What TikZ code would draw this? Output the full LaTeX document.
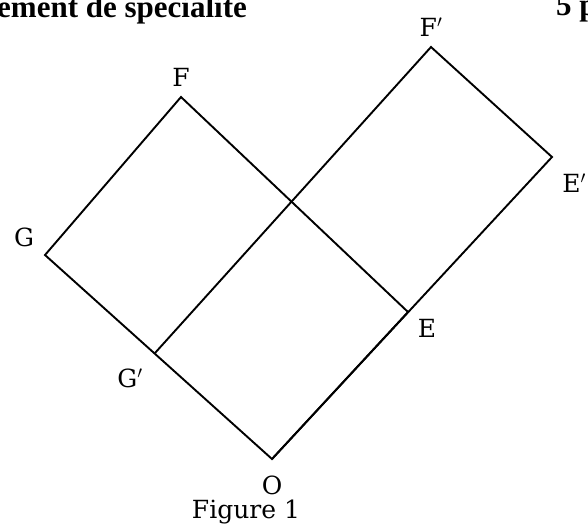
\documentclass[tikz,border=0pt]{standalone}
\usepackage{fontspec}
\setmainfont{DejaVu Serif}
\newfontfamily\hdrfont{Liberation Serif}
\tikzset{
  lbl/.style={inner sep=0pt, font=\fontsize{25}{30}\selectfont},
  edge/.style={line width=1.9pt, line join=miter},
  hdr/.style={inner sep=0pt, font=\hdrfont\fontsize{31}{34}\selectfont\bfseries}
}
\begin{document}
\begin{tikzpicture}[x=1pt,y=-1pt]
\useasboundingbox (0,0) rectangle (588,525);
\begin{scope}
\clip (0,0) rectangle (588,525);
\node[hdr, anchor=base west] (h1) at (-3,17) {ement de spécialité};
\node[hdr, anchor=base west] (h2) at (556,15) {5 points};
\end{scope}
\coordinate (O) at (272,459);
\coordinate (E) at (408,312);
\coordinate (F) at (181,97);
\coordinate (G) at (45,255);
\coordinate (Ep) at (552,157);
\coordinate (Fp) at (431,47);
\coordinate (Gp) at (155,353);
\draw[edge] (O) -- (E) -- (F) -- (G) -- cycle;
\draw[edge] (O) -- (Ep) -- (Fp) -- (Gp);
\node[lbl] (lO) at (272,485) {O};
\node[lbl] (lE) at (427,328) {E};
\node[lbl] (lF) at (181,77) {F};
\node[lbl] (lG) at (24,237) {G};
\node[lbl] (lEp) at (574,183) {E$'$};
\node[lbl] (lFp) at (431,27) {F$'$};
\node[lbl] (lGp) at (130,378) {G$'$};
\node[lbl, anchor=base] (cap) at (246,518) {Figure 1};
\end{tikzpicture}
\end{document}
